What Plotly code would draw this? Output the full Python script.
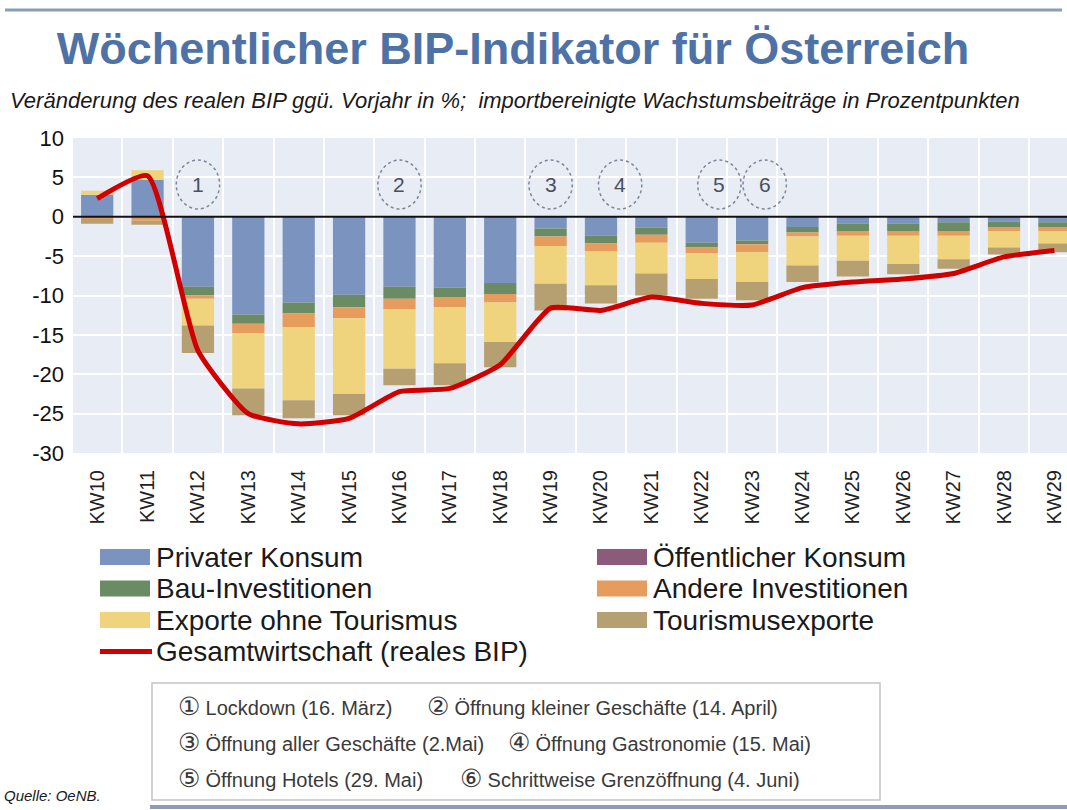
import plotly.graph_objects as go

# ---------------- data ----------------
weeks = ["KW10", "KW11", "KW12", "KW13", "KW14", "KW15", "KW16", "KW17", "KW18", "KW19",
         "KW20", "KW21", "KW22", "KW23", "KW24", "KW25", "KW26", "KW27", "KW28", "KW29"]
privater_konsum = [2.8, 4.7, -8.9, -12.4, -10.9, -9.9, -8.9, -9.0, -8.4, -1.5,
                   -2.4, -1.4, -3.3, -3.0, -1.3, -0.9, -0.9, -0.7, -0.6, -0.7]
oeffentlicher_konsum = [0.0, 0.0, 0.0, 0.0, 0.0, 0.0, 0.0, 0.0, 0.0, 0.0,
                        0.0, 0.0, 0.0, 0.0, 0.0, 0.0, 0.0, 0.0, 0.0, 0.0]
bau_investitionen = [0.0, 0.0, -1.1, -1.2, -1.4, -1.6, -1.5, -1.2, -1.4, -1.0,
                     -1.0, -0.9, -0.6, -0.5, -0.7, -0.9, -0.9, -1.1, -0.7, -0.6]
andere_investitionen = [-0.3, -0.5, -0.4, -1.2, -1.7, -1.4, -1.3, -1.3, -1.1, -1.2,
                        -1.0, -1.0, -0.7, -1.0, -0.5, -0.6, -0.6, -0.6, -0.5, -0.5]
exporte_ohne_tourismus = [0.5, 1.2, -3.4, -7.0, -9.3, -9.6, -7.6, -7.1, -5.0, -4.8,
                          -4.3, -3.9, -3.3, -3.8, -3.7, -3.2, -3.6, -3.0, -2.1, -1.6]
tourismusexporte = [-0.6, -0.5, -3.5, -3.4, -2.3, -2.7, -2.1, -2.8, -3.2, -3.4,
                    -2.3, -2.8, -2.5, -2.3, -2.1, -2.0, -1.3, -1.2, -0.9, -1.1]
reales_bip = [2.3, 5.2, -17.0, -25.0, -26.3, -25.6, -22.2, -21.8, -18.8, -11.6,
              -11.9, -10.2, -11.0, -11.2, -9.0, -8.3, -7.9, -7.2, -5.1, -4.3]

y_tick_values = [10, 5, 0, -5, -10, -15, -20, -25, -30]
y_tick_labels = ["10", "5", "0", "-5", "-10", "-15", "-20", "-25", "-30"]

series_names = ["Privater Konsum", "Öffentlicher Konsum", "Bau-Investitionen",
                "Andere Investitionen", "Exporte ohne Tourismus", "Tourismusexporte"]
series_values = [privater_konsum, oeffentlicher_konsum, bau_investitionen,
                 andere_investitionen, exporte_ohne_tourismus, tourismusexporte]
series_colors = ["#7b93bf", "#8c5a7a", "#6b8b64", "#e59c5c", "#efd47d", "#b6a071"]
bip_name = "Gesamtwirtschaft (reales BIP)"
bip_color = "#d10000"

event_labels = ["1", "2", "3", "4", "5", "6"]
event_week_pos = [2.0, 6.0, 9.0, 10.38, 12.35, 13.25]
event_texts = ["Lockdown (16. März)", "Öffnung kleiner Geschäfte (14. April)",
               "Öffnung aller Geschäfte (2.Mai)", "Öffnung Gastronomie (15. Mai)",
               "Öffnung Hotels (29. Mai)", "Schrittweise Grenzöffnung (4. Juni)"]
circled = ["①", "②", "③", "④", "⑤", "⑥"]

# ---------------- layout geometry (pixels) ----------------
W, H = 1067, 810
ML, MR, MT, MB = 73, 0, 138, 357
PW = W - ML - MR
PH = H - MT - MB


def px2x(px):
    return (px - ML) / PW


def px2y(py):
    return (H - MB - py) / PH


FONT = "Liberation Sans, Arial, sans-serif"

fig = go.Figure()
for name, vals, col in zip(series_names, series_values, series_colors):
    fig.add_trace(go.Bar(x=weeks, y=vals, name=name, marker=dict(color=col, line=dict(width=0)),
                         showlegend=False))
fig.add_trace(go.Scatter(x=weeks, y=reales_bip, name=bip_name, mode="lines",
                         line=dict(color=bip_color, width=5, shape="spline", smoothing=0.5),
                         showlegend=False))

shapes = []
annotations = []

# zero reference line
shapes.append(dict(type="line", xref="paper", yref="y", x0=0, x1=1, y0=0, y1=0,
                   line=dict(color="#111111", width=2), layer="above"))

# event circles in the plot
for lab, pos in zip(event_labels, event_week_pos):
    shapes.append(dict(type="circle", xref="x", yref="y", x0=pos - 0.43, x1=pos + 0.43,
                       y0=4.1 - 3.1, y1=4.1 + 3.1,
                       line=dict(color="#7d8799", width=1.5, dash="dot")))
    annotations.append(dict(x=pos, y=4.1, xref="x", yref="y", text=lab, showarrow=False,
                            font=dict(family=FONT, size=21, color="#4a5060")))

# top and bottom decorative rules
shapes.append(dict(type="line", xref="paper", yref="paper", x0=px2x(5), x1=px2x(1062),
                   y0=px2y(10), y1=px2y(10), line=dict(color="#8d9db5", width=3)))
shapes.append(dict(type="line", xref="paper", yref="paper", x0=px2x(150), x1=px2x(1067),
                   y0=px2y(807), y1=px2y(807), line=dict(color="#8d9db5", width=4)))

# subtitle
annotations.append(dict(x=px2x(8), y=px2y(100), xref="paper", yref="paper", xanchor="left",
                        yanchor="middle", showarrow=False,
                        text="<i>Veränderung des realen BIP ggü. Vorjahr in %;  importbereinigte Wachstumsbeiträge in Prozentpunkten</i>",
                        font=dict(family=FONT, size=22, color="#1a1a1a")))

# manual legend (two columns)
row_y = [557, 588.5, 620, 651.5]
col_x = [100, 597]
for i, (name, col) in enumerate(zip(series_names, series_colors)):
    r, c = i // 2, i % 2
    x0 = col_x[c]
    yc = row_y[r]
    shapes.append(dict(type="rect", xref="paper", yref="paper", x0=px2x(x0), x1=px2x(x0 + 50),
                       y0=px2y(yc + 8), y1=px2y(yc - 8), fillcolor=col, line=dict(width=0)))
    annotations.append(dict(x=px2x(x0 + 54), y=px2y(yc), xref="paper", yref="paper",
                            xanchor="left", yanchor="middle", showarrow=False, text=name,
                            font=dict(family=FONT, size=28, color="#1a1a1a")))
shapes.append(dict(type="line", xref="paper", yref="paper", x0=px2x(100), x1=px2x(152),
                   y0=px2y(row_y[3]), y1=px2y(row_y[3]), line=dict(color=bip_color, width=5)))
annotations.append(dict(x=px2x(154), y=px2y(row_y[3]), xref="paper", yref="paper",
                        xanchor="left", yanchor="middle", showarrow=False, text=bip_name,
                        font=dict(family=FONT, size=28, color="#1a1a1a")))

# event box
shapes.append(dict(type="rect", xref="paper", yref="paper", x0=px2x(152), x1=px2x(880),
                   y0=px2y(800), y1=px2y(683), line=dict(color="#c4c4c4", width=1.5),
                   fillcolor="white"))
box_rows = [706, 742, 778]
box_cols = [[176, 425], [176, 506], [176, 458]]
for i, (sym, txt) in enumerate(zip(circled, event_texts)):
    r, c = i // 2, i % 2
    annotations.append(dict(x=px2x(box_cols[r][c]), y=px2y(box_rows[r]), xref="paper",
                            yref="paper", xanchor="left", yanchor="middle", showarrow=False,
                            text="<span style='font-size:25px'>" + sym + "</span> " + txt,
                            font=dict(family=FONT, size=20, color="#3a3a3a")))

# source
annotations.append(dict(x=px2x(2), y=px2y(796), xref="paper", yref="paper", xanchor="left",
                        yanchor="middle", showarrow=False, text="<i>Quelle: OeNB.</i>",
                        font=dict(family=FONT, size=15, color="#1a1a1a")))

fig.update_layout(
    width=W, height=H,
    margin=dict(l=ML, r=MR, t=MT, b=MB),
    paper_bgcolor="white",
    plot_bgcolor="#e8ecf4",
    barmode="relative",
    bargap=0.36,
    showlegend=False,
    title=dict(text="<b>Wöchentlicher BIP-Indikator für Österreich</b>", x=513 / W,
               xanchor="center", y=1 - 48 / H, yanchor="middle",
               font=dict(family=FONT, size=45, color="#4e72a6")),
    xaxis=dict(type="category", categoryorder="array", categoryarray=weeks,
               range=[-0.48, 19.25], tickson="boundaries", showgrid=True,
               gridcolor="white", gridwidth=1.5, ticks="", tickangle=-90,
               tickfont=dict(family=FONT, size=20, color="#222222"),
               ticklabelstandoff=12, zeroline=False, showline=False),
    yaxis=dict(range=[-30, 10], tickmode="array", tickvals=y_tick_values,
               ticktext=y_tick_labels, showgrid=True, gridcolor="white",
               gridwidth=1.5, zeroline=False, ticks="",
               tickfont=dict(family=FONT, size=22, color="#111111"),
               ticklabelstandoff=8, showline=False),
    shapes=shapes,
    annotations=annotations,
)

fig.write_html("out.html", config={"displayModeBar": False},
               post_script="document.body.style.margin='0';document.body.style.overflow='hidden';")
